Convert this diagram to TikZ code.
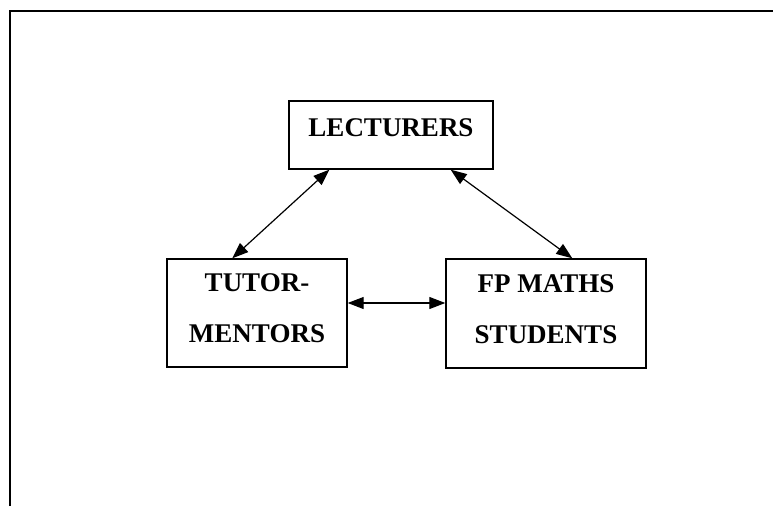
\documentclass[tikz,border=0pt]{standalone}
\usepackage{fontspec}
\setmainfont{Liberation Serif}
\usetikzlibrary{arrows.meta}
\begin{document}
\begin{tikzpicture}[x=1pt,y=-1pt,
  every node/.style={font=\bfseries\fontsize{27}{51}\selectfont},
  rolebox/.style={draw=black,line width=1.4pt,align=center,inner sep=0pt},
  link/.style={line width=1.2pt,{Triangle[length=16pt,width=12pt]}-{Triangle[length=16pt,width=12pt]}},
  frame/.style={line width=1.6pt}]
\useasboundingbox (0,0) rectangle (773,506);
% page frame: top and left rules only
\draw[frame] (10,506) -- (10,11) -- (773,11);
% the three groups
\node[rolebox,minimum width=204pt,minimum height=68pt,text depth=15pt] (lect) at (391,135) {LECTURERS};
\node[rolebox,minimum width=180pt,minimum height=108pt,text depth=9pt] (tutor) at (257,313) {TUTOR-\\MENTORS};
\node[rolebox,minimum width=200pt,minimum height=109pt,text depth=8pt] (fp) at (546,313.5) {FP MATHS\\STUDENTS};
% attachment points on the box edges
\coordinate (lt) at ([xshift=41pt]lect.south west);
\coordinate (lf) at ([xshift=-43pt]lect.south east);
\coordinate (tl) at ([xshift=66pt]tutor.north west);
\coordinate (fl) at ([xshift=127pt]fp.north west);
\coordinate (te) at ([yshift=10pt]tutor.east);
\coordinate (fe) at (fp.west |- te);
% two-way links
\draw[link] (lt) -- (tl);
\draw[link] (lf) -- (fl);
\draw[link] (te) -- (fe);
\end{tikzpicture}
\end{document}
